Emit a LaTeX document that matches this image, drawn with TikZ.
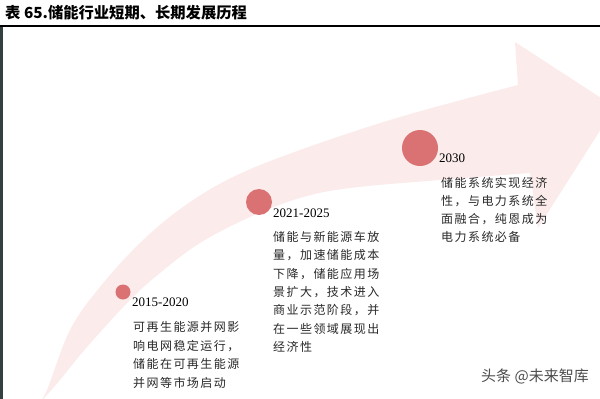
\documentclass[tikz,border=0pt]{standalone}
\usepackage{fontspec}
\setmainfont{Liberation Serif}
\newfontfamily\cjk{Noto Sans CJK SC}
\newfontfamily\cjkbody{Noto Sans CJK SC}[LetterSpace=12]
\definecolor{bandpink}{RGB}{251,235,235}
\definecolor{dotred}{RGB}{218,114,115}
\definecolor{bodytext}{RGB}{40,40,40}
\definecolor{strip}{RGB}{50,64,64}
\newcommand\blurb[5]{%
  \foreach \t [count=\i from 0] in {#5} {\node[body] (#1-\i) at (#2,{#3+\i*#4}) {\t};}}
\begin{document}
\begin{tikzpicture}[x=1pt,y=-1pt,
  dot/.style={circle,fill=dotred,inner sep=0pt,minimum size=#1},
  year/.style={font=\fontsize{13}{13}\selectfont,anchor=base west,inner sep=0pt},
  body/.style={font=\cjkbody\fontsize{12}{12}\selectfont,text=bodytext,anchor=base west,inner sep=0pt}]
\useasboundingbox (0,0) rectangle (600,399);
\begin{scope}
\clip (0,0) rectangle (600,399);
\fill[bandpink] plot[smooth,tension=0.6] coordinates {(38,404) (47,390) (70,330) (100,287) (140,243) (183,207) (233,177) (300,150) (400,117) (518,85)}
  -- (515,42) -- (615,107) -- (538,228) -- (530,173)
  -- plot[smooth,tension=0.6] coordinates {(530,173) (440,180) (350,188) (300,198) (250,217) (200,243) (160,273) (130,300) (87,347) (60,380) (45,397) (38,404)} -- cycle;
\end{scope}
\fill[strip] (0,27) rectangle (2.5,399);
\draw[line width=1.3pt] (0,26) -- (600,26);
\node[font=\cjk\bfseries\fontsize{15.3}{15.3}\selectfont,anchor=base west,inner sep=0pt] (title) at (5,18.5) {表 65.储能行业短期、长期发展历程};
\node[dot=15pt] (d1) at (123,292) {};
\node[dot=26pt] (d2) at (259,202) {};
\node[dot=36pt] (d3) at (420,148) {};
\node[year] (y1) at (132,306) {2015-2020};
\node[year] (y2) at (273,217) {2021-2025};
\node[year] (y3) at (439,162) {2030};
\blurb{a}{133}{331.5}{18.7}{可再生能源并网影,响电网稳定运行，,储能在可再生能源,并网等市场启动}
\blurb{b}{273}{241.5}{18.3}{储能与新能源车放,量，加速储能成本,下降，储能应用场,景扩大，技术进入,商业示范阶段，并,在一些领域展现出,经济性}
\blurb{c}{441}{187.5}{18}{储能系统实现经济,性，与电力系统全,面融合，纯恩成为,电力系统必备}
\node[font=\cjk\fontsize{15}{15}\selectfont,text=black!70,inner sep=0pt] (wm) at (535,376) {头条 @未来智库};
\end{tikzpicture}
\end{document}
